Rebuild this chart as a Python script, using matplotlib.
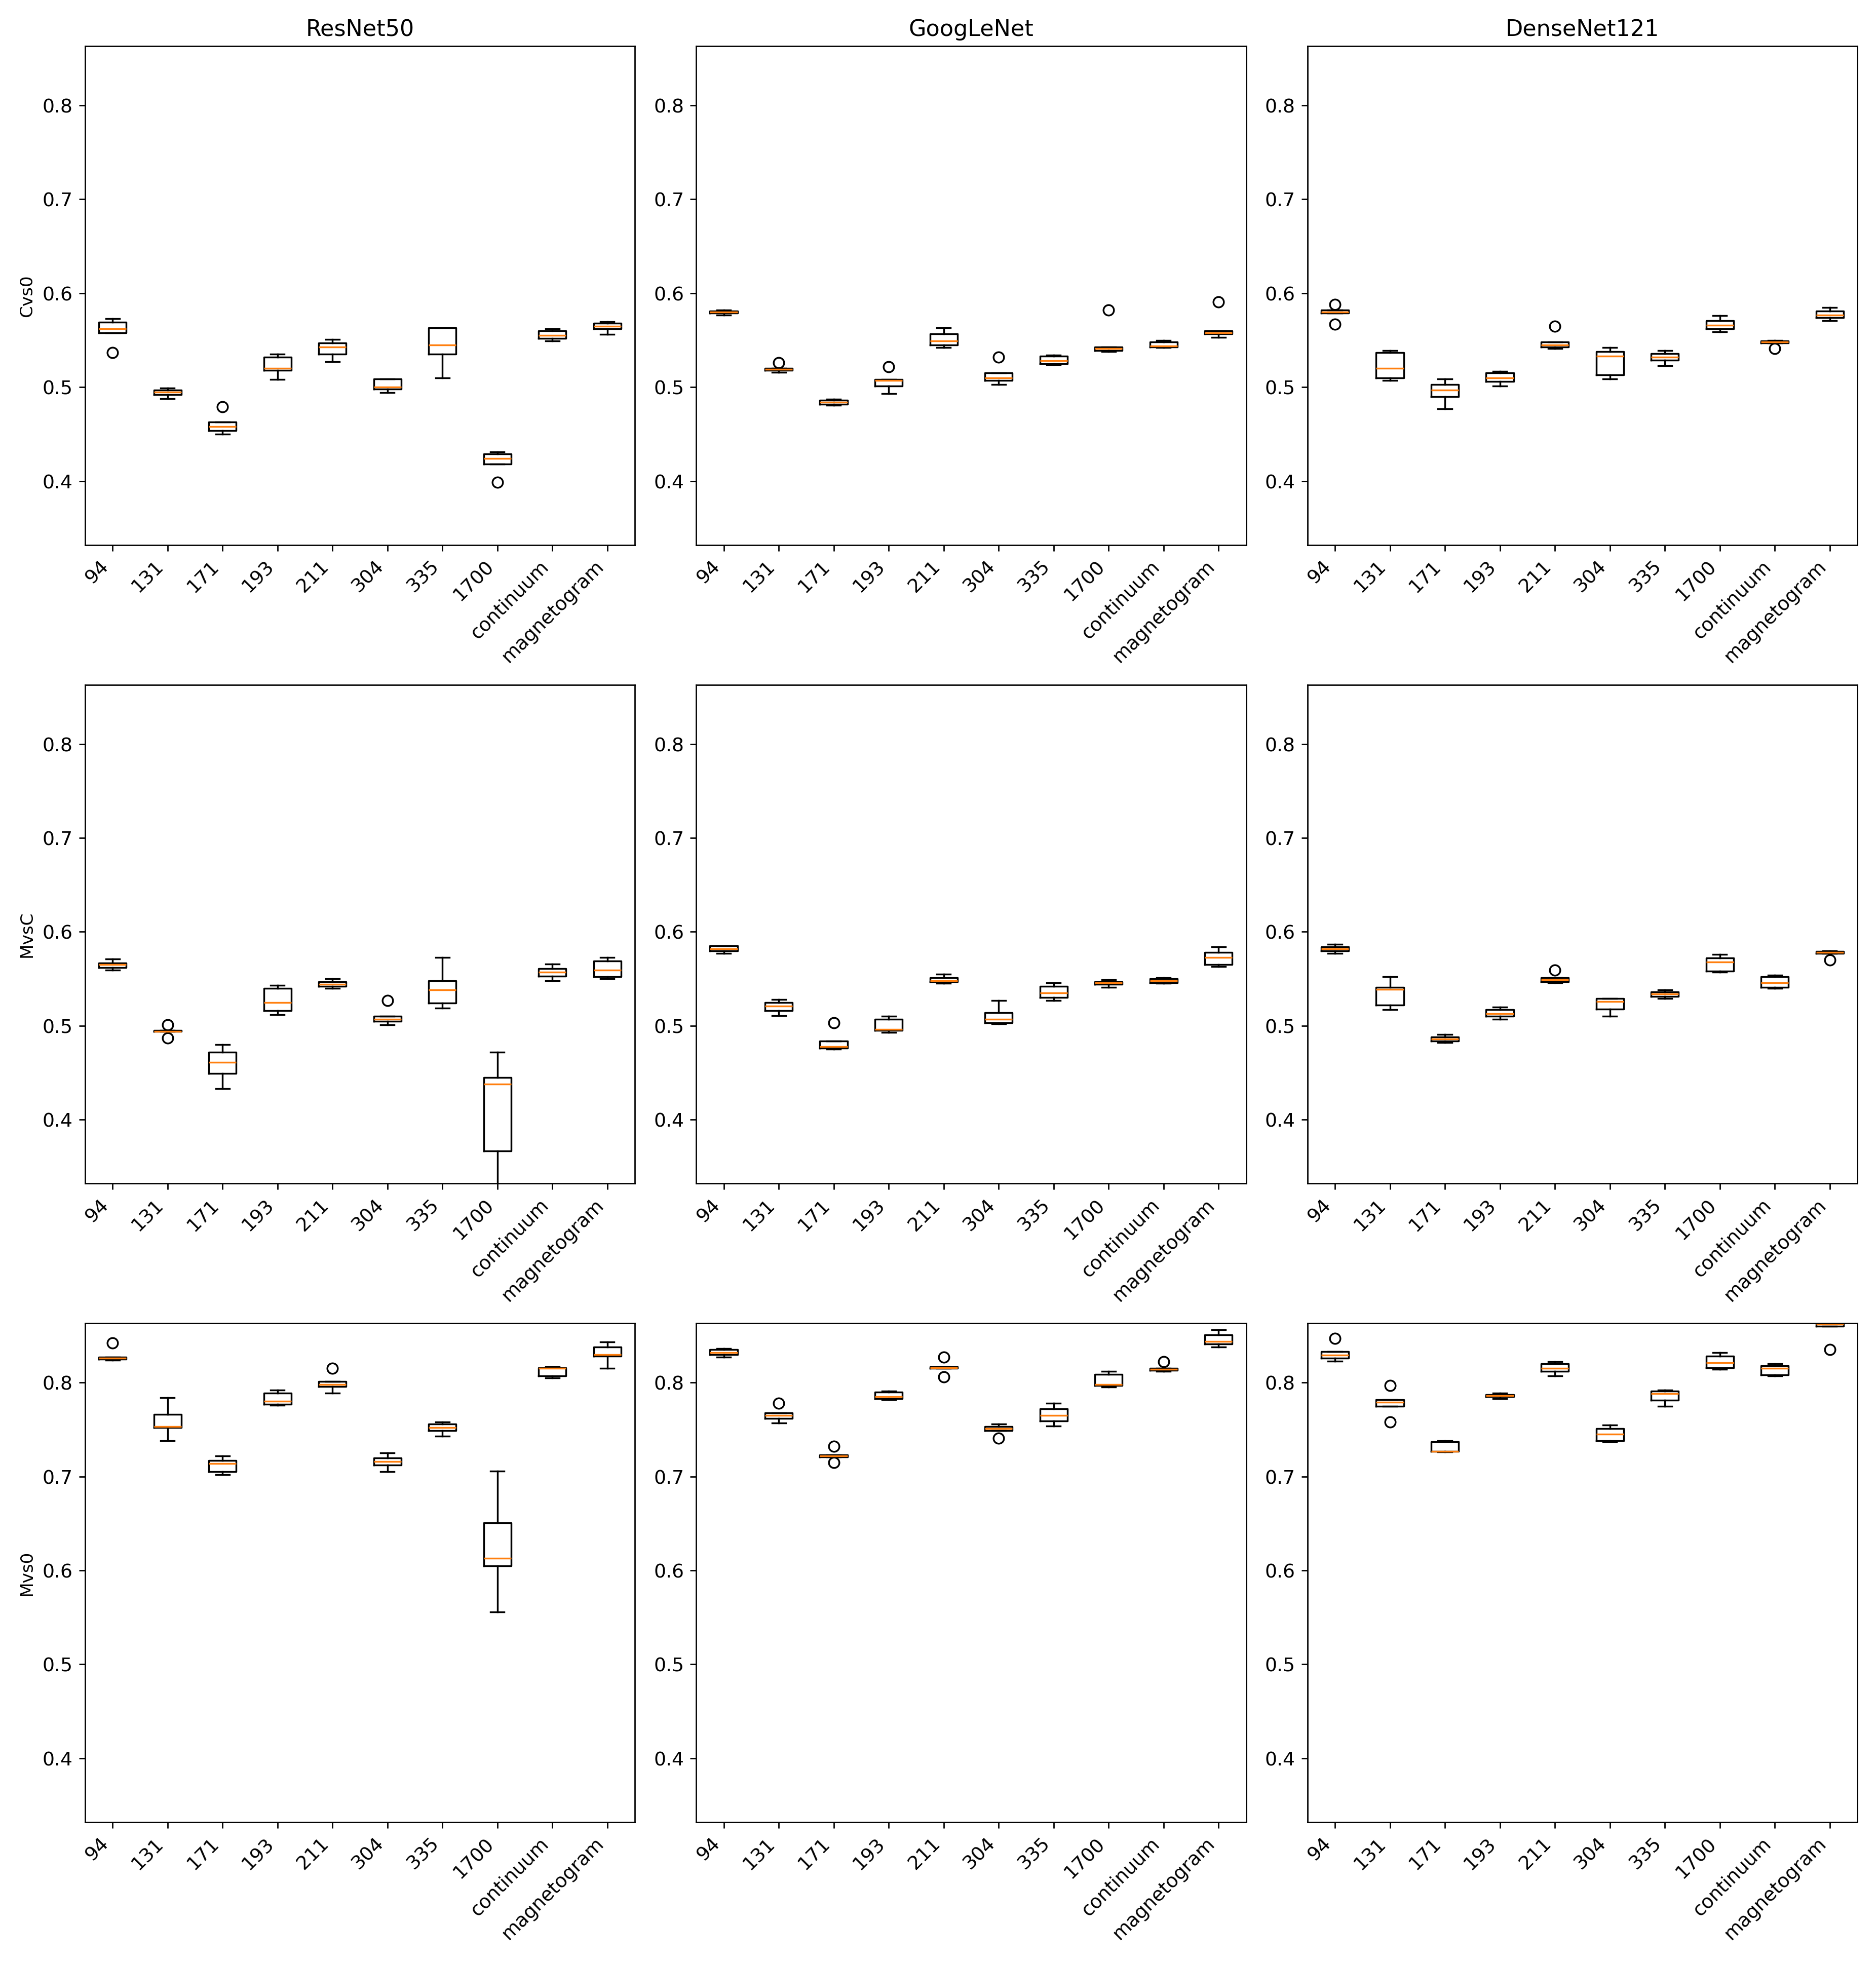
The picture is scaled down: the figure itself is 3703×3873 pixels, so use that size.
import matplotlib
matplotlib.use("Agg")
import matplotlib.pyplot as plt

channels = ["94","131","171","193","211","304","335","1700","continuum","magnetogram"]
models = ["ResNet50","GoogLeNet","DenseNet121"]
tasks = ["Cvs0","MvsC","Mvs0"]

resnet_cvs0 = [[0.537,0.558,0.562,0.569,0.573],[0.488,0.492,0.495,0.497,0.499],[0.450,0.454,0.458,0.463,0.479],
 [0.508,0.518,0.520,0.532,0.535],[0.527,0.535,0.543,0.547,0.551],[0.494,0.498,0.500,0.509,0.509],
 [0.510,0.535,0.545,0.563,0.563],[0.399,0.418,0.424,0.429,0.431],[0.549,0.552,0.555,0.560,0.562],
 [0.556,0.562,0.565,0.568,0.570]]
googlenet_cvs0 = [[0.577,0.579,0.580,0.581,0.582],[0.516,0.518,0.519,0.520,0.526],[0.481,0.482,0.484,0.486,0.487],
 [0.493,0.501,0.507,0.508,0.522],[0.542,0.545,0.549,0.557,0.563],[0.503,0.507,0.510,0.515,0.532],
 [0.524,0.525,0.528,0.533,0.534],[0.538,0.539,0.541,0.543,0.582],[0.542,0.543,0.544,0.548,0.550],
 [0.553,0.557,0.558,0.560,0.591]]
densenet_cvs0 = [[0.567,0.579,0.580,0.582,0.588],[0.507,0.510,0.520,0.537,0.539],[0.477,0.490,0.497,0.503,0.509],
 [0.501,0.506,0.510,0.515,0.517],[0.541,0.543,0.545,0.548,0.565],[0.509,0.513,0.533,0.538,0.542],
 [0.523,0.529,0.532,0.536,0.539],[0.559,0.562,0.566,0.571,0.576],[0.541,0.547,0.548,0.549,0.550],
 [0.571,0.574,0.577,0.581,0.585]]
resnet_mvsc = [[0.559,0.562,0.565,0.567,0.571],[0.487,0.494,0.494,0.495,0.501],[0.433,0.449,0.461,0.472,0.480],
 [0.512,0.516,0.525,0.540,0.543],[0.540,0.542,0.544,0.547,0.550],[0.501,0.505,0.507,0.510,0.527],
 [0.519,0.524,0.538,0.548,0.573],[0.320,0.367,0.438,0.445,0.472],[0.548,0.553,0.557,0.561,0.566],
 [0.550,0.552,0.559,0.569,0.573]]
googlenet_mvsc = [[0.577,0.580,0.582,0.585,0.585],[0.511,0.516,0.521,0.525,0.528],[0.475,0.476,0.478,0.484,0.503],
 [0.493,0.495,0.496,0.507,0.510],[0.545,0.547,0.548,0.551,0.555],[0.502,0.503,0.507,0.514,0.527],
 [0.527,0.530,0.535,0.542,0.546],[0.541,0.544,0.546,0.547,0.549],[0.545,0.546,0.548,0.550,0.551],
 [0.563,0.565,0.573,0.578,0.584]]
densenet_mvsc = [[0.577,0.580,0.582,0.584,0.587],[0.517,0.522,0.539,0.541,0.552],[0.482,0.484,0.486,0.488,0.491],
 [0.507,0.510,0.513,0.517,0.520],[0.546,0.547,0.549,0.551,0.559],[0.510,0.518,0.526,0.529,0.529],
 [0.529,0.531,0.534,0.536,0.538],[0.557,0.558,0.568,0.572,0.576],[0.540,0.541,0.546,0.552,0.554],
 [0.570,0.577,0.578,0.579,0.580]]
resnet_mvs0 = [[0.824,0.825,0.826,0.827,0.842],[0.738,0.752,0.753,0.766,0.784],[0.702,0.705,0.714,0.717,0.722],
 [0.776,0.777,0.780,0.789,0.792],[0.789,0.796,0.798,0.801,0.815],[0.705,0.712,0.716,0.720,0.725],
 [0.743,0.749,0.752,0.756,0.758],[0.556,0.605,0.613,0.651,0.706],[0.805,0.807,0.815,0.816,0.817],
 [0.815,0.828,0.830,0.838,0.843]]
googlenet_mvs0 = [[0.827,0.830,0.832,0.835,0.836],[0.757,0.762,0.765,0.768,0.778],[0.715,0.721,0.722,0.723,0.732],
 [0.782,0.783,0.785,0.790,0.791],[0.806,0.815,0.816,0.817,0.827],[0.741,0.749,0.751,0.753,0.756],
 [0.754,0.759,0.765,0.772,0.778],[0.795,0.797,0.798,0.809,0.812],[0.812,0.813,0.814,0.815,0.822],
 [0.838,0.841,0.844,0.851,0.856]]
densenet_mvs0 = [[0.823,0.826,0.829,0.833,0.847],[0.758,0.775,0.779,0.782,0.797],[0.726,0.727,0.727,0.737,0.738],
 [0.783,0.785,0.786,0.787,0.789],[0.807,0.812,0.815,0.820,0.822],[0.737,0.738,0.745,0.751,0.755],
 [0.775,0.781,0.788,0.791,0.792],[0.814,0.816,0.821,0.828,0.832],[0.807,0.808,0.815,0.818,0.820],
 [0.835,0.860,0.862,0.864,0.866]]

grid = [[resnet_cvs0, googlenet_cvs0, densenet_cvs0],
        [resnet_mvsc, googlenet_mvsc, densenet_mvsc],
        [resnet_mvs0, googlenet_mvs0, densenet_mvs0]]

fig, axes = plt.subplots(3, 3, figsize=(15.0, 15.69), dpi=246.87)
for r in range(3):
    for c in range(3):
        ax = axes[r][c]
        ax.boxplot(grid[r][c])
        ax.set_ylim(0.332, 0.863)
        ax.set_xticks(range(1, len(channels) + 1))
        ax.set_xticklabels(channels, rotation=45, ha="right", fontsize=11)
        ax.tick_params(axis="y", labelsize=11)
        if r == 0:
            ax.set_title(models[c], fontsize=13)
        if c == 0:
            ax.set_ylabel(tasks[r])
fig.tight_layout()
fig.savefig("out.png")
